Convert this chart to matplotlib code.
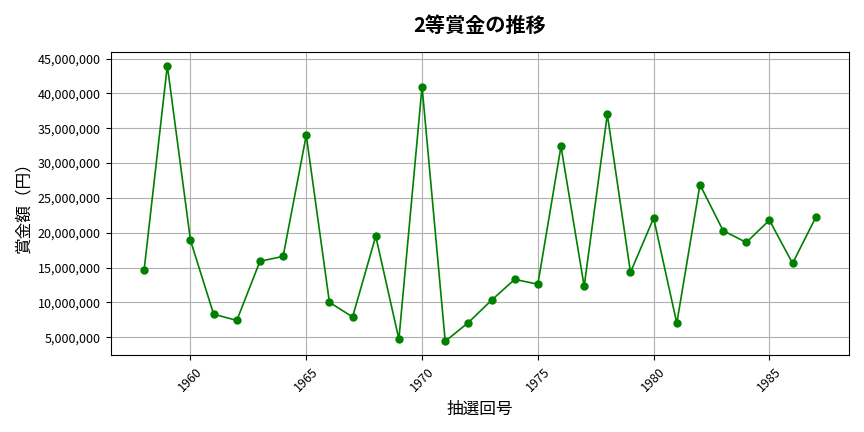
import matplotlib
matplotlib.use("Agg")
import matplotlib.pyplot as plt
from matplotlib.ticker import FuncFormatter

plt.rcParams['font.family'] = ['Noto Sans CJK JP', 'DejaVu Sans']

years = list(range(1958, 1988))
prizes = [14.7e6, 44.0e6, 18.9e6, 8.3e6, 7.4e6, 15.9e6, 16.6e6, 34.0e6, 10.0e6, 7.9e6,
          19.5e6, 4.7e6, 41.0e6, 4.4e6, 7.1e6, 10.3e6, 13.3e6, 12.6e6, 32.4e6, 12.3e6,
          37.0e6, 14.3e6, 22.1e6, 7.0e6, 26.9e6, 20.3e6, 18.6e6, 21.8e6, 15.6e6, 22.2e6]

title = "2等賞金の推移"
xlabel = "抽選回号"
ylabel = "賞金額（円）"

fig = plt.figure(figsize=(8.64, 4.32), dpi=100)
ax = fig.add_axes([0.128, 0.178, 0.855, 0.702])
ax.plot(years, prizes, color='green', marker='o', markersize=5, linewidth=1.2)
ax.set_title(title, fontsize=14.5, fontweight='bold', pad=14)
ax.set_xlabel(xlabel, fontsize=12, labelpad=5)
ax.set_ylabel(ylabel, fontsize=12, labelpad=4)
ax.yaxis.set_major_formatter(FuncFormatter(lambda v, p: f"{int(v):,}"))
ax.tick_params(axis='both', labelsize=9)
plt.setp(ax.get_xticklabels(), rotation=45)
ax.grid(True, color='#b0b0b0', linewidth=0.8)
fig.savefig("out.png", dpi=100)
